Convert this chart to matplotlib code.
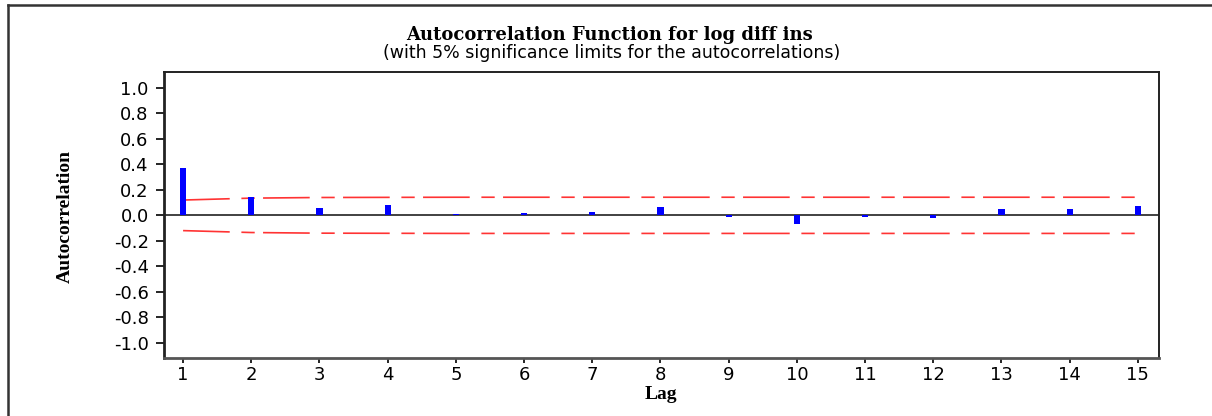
import matplotlib
matplotlib.use('Agg')
import matplotlib.pyplot as plt
from matplotlib.lines import Line2D

# lags and autocorrelations
lags = list(range(1, 16))
acf = [0.37, 0.145, 0.06, 0.08, 0.01, 0.015, 0.025, 0.065,
       -0.01, -0.065, -0.01, -0.02, 0.05, 0.05, 0.075]
# 5% significance limits (upper; lower is the mirror)
limits = [0.12, 0.135, 0.14, 0.141, 0.142, 0.142, 0.142, 0.142,
          0.142, 0.142, 0.142, 0.142, 0.142, 0.142, 0.142]
yticks = [1.0, 0.8, 0.6, 0.4, 0.2, 0.0, -0.2, -0.4, -0.6, -0.8, -1.0]

fig = plt.figure(figsize=(12.12, 4.16), dpi=100)
ax = fig.add_axes([0.1353, 0.1394, 0.8210, 0.6875])

ax.axhline(0, color='#333333', lw=1.3, zorder=1)
ax.bar(lags, acf, width=0.09, color='#0000ff', zorder=3)
ax.plot(lags, limits, color='red', lw=1.2, alpha=0.8, dashes=(28, 7, 8, 5), zorder=2)
ax.plot(lags, [-v for v in limits], color='red', lw=1.2, alpha=0.8, dashes=(28, 7, 8, 5), zorder=2)

ax.set_xlim(0.72, 15.31)
ax.set_ylim(-1.12, 1.125)
ax.set_xticks(lags)
ax.set_yticks(yticks)
ax.set_yticklabels(['%.1f' % v for v in yticks])
ax.tick_params(axis='y', length=6, width=1.2, pad=5, labelsize=13)
ax.tick_params(axis='x', length=3.5, width=1.2, pad=2.5, labelsize=13)
for s in ax.spines.values():
    s.set_color('#222222')
    s.set_linewidth(1.4)
ax.spines['left'].set_linewidth(2)
ax.spines['bottom'].set_linewidth(2)
ax.spines['bottom'].set_color('#555555')

fig.text(0.503, 1 - 40 / 416, 'Autocorrelation Function for log diff ins',
         ha='center', va='baseline', family='DejaVu Serif', weight='bold', fontsize=13)
fig.text(0.505, 1 - 58 / 416, '(with 5% significance limits for the autocorrelations)',
         ha='center', va='baseline', family='DejaVu Sans', fontsize=12.5)
fig.text(0.545, 1 - 399 / 416, 'Lag', ha='center', va='baseline',
         family='Liberation Serif', weight='bold', fontsize=14)
fig.text(0.054, 0.48, 'Autocorrelation', ha='center', va='center', rotation=90,
         family='Liberation Serif', weight='bold', fontsize=14)

# outer frame (top and left edges only visible)
fig.add_artist(Line2D([8 / 1212, 1.0], [1 - 5 / 416, 1 - 5 / 416],
                      transform=fig.transFigure, color='#333333', lw=1.8))
fig.add_artist(Line2D([8 / 1212, 8 / 1212], [0.0, 1 - 5 / 416],
                      transform=fig.transFigure, color='#333333', lw=1.8))

plt.savefig('out.png', dpi=100)
